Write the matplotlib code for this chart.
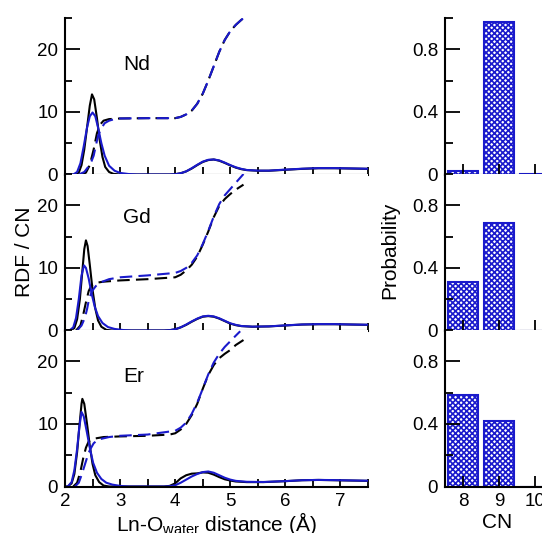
import matplotlib
matplotlib.use("Agg")
import matplotlib.pyplot as plt
from matplotlib.ticker import MultipleLocator, FixedLocator

plt.rcParams['font.family'] = ['Liberation Sans', 'DejaVu Sans']
plt.rcParams['font.size'] = 13.5
plt.rcParams['hatch.linewidth'] = 1.2

# RDF curves (solid) and running coordination numbers (dashed)
# black = reference, blue = model
nd_rdf_black = [(2.0, 0), (2.20, 0), (2.25, 0.3), (2.30, 1.5), (2.35, 4.0), (2.40, 7.5), (2.45, 11.0),
                (2.49, 12.8), (2.53, 12.0), (2.58, 9.0), (2.63, 5.5), (2.68, 2.8), (2.73, 1.2),
                (2.80, 0.4), (2.88, 0.1), (3.0, 0), (3.9, 0), (4.0, 0.05), (4.1, 0.2), (4.2, 0.5),
                (4.3, 0.95), (4.4, 1.5), (4.5, 2.0), (4.6, 2.3), (4.7, 2.4), (4.8, 2.2), (4.9, 1.85),
                (5.0, 1.45), (5.1, 1.1), (5.2, 0.85), (5.3, 0.7), (5.5, 0.6), (5.7, 0.6), (6.0, 0.75),
                (6.3, 0.9), (6.6, 1.0), (6.9, 1.0), (7.2, 0.95), (7.5, 0.9)]
nd_rdf_blue = [(2.0, 0), (2.15, 0), (2.22, 0.4), (2.28, 1.8), (2.34, 4.5), (2.40, 7.5), (2.45, 9.3),
               (2.50, 9.9), (2.55, 9.3), (2.60, 7.5), (2.66, 5.0), (2.72, 3.0), (2.80, 1.4),
               (2.90, 0.6), (3.0, 0.25), (3.15, 0.08), (3.3, 0), (3.9, 0), (4.0, 0.05), (4.1, 0.2),
               (4.2, 0.5), (4.3, 1.0), (4.4, 1.55), (4.5, 2.05), (4.6, 2.35), (4.7, 2.4), (4.8, 2.25),
               (4.9, 1.9), (5.0, 1.5), (5.1, 1.15), (5.2, 0.9), (5.3, 0.72), (5.5, 0.62), (5.7, 0.62),
               (6.0, 0.78), (6.3, 0.92), (6.6, 1.02), (6.9, 1.02), (7.2, 0.97), (7.5, 0.92)]
nd_cn_black = [(2.3, 0), (2.38, 0.3), (2.45, 1.5), (2.52, 4.0), (2.58, 6.6), (2.64, 8.0), (2.70, 8.6),
               (2.80, 8.85), (3.0, 8.95), (3.5, 9.0), (4.0, 9.0), (4.1, 9.2), (4.2, 9.6), (4.3, 10.2),
               (4.4, 11.3), (4.5, 12.9), (4.6, 15.0), (4.7, 17.3), (4.8, 19.6), (4.9, 21.5),
               (5.0, 22.9), (5.1, 23.9), (5.2, 24.7), (5.27, 25.2)]
nd_cn_blue = [(2.25, 0), (2.35, 0.4), (2.42, 1.2), (2.48, 2.1), (2.52, 3.0), (2.56, 4.6), (2.60, 6.2),
              (2.66, 7.4), (2.72, 8.2), (2.80, 8.6), (2.9, 8.85), (3.0, 8.95), (3.5, 9.0), (4.0, 9.0),
              (4.1, 9.2), (4.2, 9.6), (4.3, 10.2), (4.4, 11.3), (4.5, 12.9), (4.6, 15.0), (4.7, 17.3),
              (4.8, 19.6), (4.9, 21.5), (5.0, 22.9), (5.1, 23.9), (5.2, 24.7), (5.27, 25.2)]

gd_rdf_black = [(2.0, 0), (2.10, 0), (2.17, 0.4), (2.22, 1.8), (2.27, 5.0), (2.31, 9.0), (2.35, 13.0),
                (2.38, 14.4), (2.41, 13.5), (2.45, 10.5), (2.50, 6.5), (2.55, 3.5), (2.60, 1.6),
                (2.66, 0.6), (2.75, 0.1), (2.85, 0), (3.8, 0), (3.9, 0.05), (4.0, 0.2), (4.1, 0.5),
                (4.2, 0.9), (4.3, 1.4), (4.4, 1.85), (4.5, 2.2), (4.6, 2.3), (4.7, 2.2), (4.8, 1.9),
                (4.9, 1.5), (5.0, 1.1), (5.1, 0.85), (5.2, 0.7), (5.4, 0.6), (5.7, 0.65), (6.0, 0.8),
                (6.3, 0.95), (6.6, 1.0), (6.9, 1.0), (7.2, 0.95), (7.5, 0.9)]
gd_rdf_blue = [(2.0, 0), (2.08, 0), (2.15, 0.5), (2.20, 2.0), (2.25, 5.0), (2.30, 8.8), (2.345, 10.4),
               (2.38, 10.0), (2.43, 8.3), (2.48, 6.0), (2.54, 3.8), (2.60, 2.3), (2.68, 1.2),
               (2.78, 0.55), (2.90, 0.25), (3.05, 0.08), (3.2, 0), (3.8, 0), (3.9, 0.05), (4.0, 0.2),
               (4.1, 0.5), (4.2, 0.95), (4.3, 1.45), (4.4, 1.9), (4.5, 2.25), (4.6, 2.35), (4.7, 2.25),
               (4.8, 1.95), (4.9, 1.55), (5.0, 1.15), (5.1, 0.9), (5.2, 0.72), (5.4, 0.62), (5.7, 0.66),
               (6.0, 0.82), (6.3, 0.96), (6.6, 1.02), (6.9, 1.02), (7.2, 0.96), (7.5, 0.92)]
gd_cn_black = [(2.2, 0), (2.28, 0.8), (2.33, 2.5), (2.38, 4.5), (2.43, 6.3), (2.48, 7.2), (2.55, 7.6),
               (2.7, 7.8), (3.0, 8.0), (3.5, 8.2), (4.0, 8.5), (4.1, 8.9), (4.2, 9.6), (4.3, 10.5),
               (4.4, 11.8), (4.5, 13.7), (4.6, 15.8), (4.7, 18.1), (4.8, 19.9), (4.9, 21.0),
               (5.0, 21.8), (5.1, 22.5), (5.24, 23.3)]
gd_cn_blue = [(2.22, 0), (2.30, 0.8), (2.36, 2.0), (2.40, 3.4), (2.44, 5.2), (2.50, 6.4), (2.56, 7.1),
              (2.65, 7.7), (2.8, 8.2), (3.0, 8.5), (3.5, 8.8), (4.0, 9.2), (4.1, 9.5), (4.2, 10.0),
              (4.3, 10.8), (4.4, 12.0), (4.5, 13.8), (4.6, 15.9), (4.7, 18.2), (4.8, 20.2),
              (4.9, 21.6), (5.0, 22.6), (5.1, 23.6), (5.2, 24.6), (5.24, 25.0)]

er_rdf_black = [(2.0, 0), (2.05, 0), (2.12, 0.5), (2.17, 2.0), (2.22, 5.5), (2.26, 9.5), (2.30, 13.2),
                (2.315, 14.0), (2.35, 13.2), (2.40, 10.0), (2.45, 6.5), (2.50, 3.6), (2.55, 1.8),
                (2.62, 0.7), (2.70, 0.15), (2.80, 0), (3.8, 0), (3.9, 0.1), (4.0, 0.5), (4.1, 1.3),
                (4.2, 1.8), (4.3, 2.05), (4.4, 2.1), (4.5, 2.25), (4.6, 2.2), (4.7, 1.9), (4.8, 1.5),
                (4.9, 1.15), (5.0, 0.95), (5.1, 0.8), (5.3, 0.7), (5.6, 0.7), (6.0, 0.85), (6.3, 1.0),
                (6.6, 1.05), (6.9, 1.0), (7.2, 0.95), (7.5, 0.9)]
er_rdf_blue = [(2.0, 0), (2.05, 0), (2.12, 0.7), (2.17, 2.6), (2.22, 6.0), (2.26, 9.5), (2.30, 11.9),
               (2.34, 11.2), (2.39, 9.0), (2.45, 6.2), (2.51, 3.8), (2.58, 2.2), (2.66, 1.2),
               (2.75, 0.6), (2.86, 0.3), (3.0, 0.1), (3.15, 0), (3.8, 0), (3.9, 0.05), (4.0, 0.2),
               (4.1, 0.6), (4.2, 1.1), (4.3, 1.6), (4.4, 2.0), (4.5, 2.3), (4.6, 2.4), (4.7, 2.2),
               (4.8, 1.8), (4.9, 1.4), (5.0, 1.1), (5.1, 0.9), (5.3, 0.75), (5.6, 0.72), (6.0, 0.86),
               (6.3, 1.0), (6.6, 1.05), (6.9, 1.02), (7.2, 0.97), (7.5, 0.92)]
er_cn_black = [(2.15, 0), (2.22, 0.6), (2.28, 2.4), (2.33, 4.5), (2.38, 6.2), (2.43, 7.2), (2.5, 7.6),
               (2.7, 7.9), (3.0, 8.0), (3.5, 8.1), (3.9, 8.3), (4.0, 8.5), (4.1, 9.1), (4.2, 10.0),
               (4.3, 11.4), (4.4, 13.2), (4.5, 15.6), (4.6, 17.8), (4.7, 19.4), (4.8, 20.5),
               (4.9, 21.2), (5.0, 21.8), (5.1, 22.6), (5.24, 23.4)]
er_cn_blue = [(2.18, 0), (2.25, 0.6), (2.30, 1.8), (2.35, 3.2), (2.40, 4.6), (2.45, 5.8), (2.52, 6.9),
              (2.60, 7.5), (2.8, 7.9), (3.0, 8.1), (3.5, 8.3), (4.0, 8.9), (4.1, 9.4), (4.2, 10.2),
              (4.3, 11.6), (4.4, 13.4), (4.5, 15.6), (4.6, 17.9), (4.7, 19.8), (4.8, 21.2),
              (4.9, 22.3), (5.0, 23.2), (5.1, 24.1), (5.18, 24.8)]

ions = ['Nd', 'Gd', 'Er']
cn_values = [8, 9, 10]
nd_prob = [0.02, 0.975, 0.004]
gd_prob = [0.31, 0.69, 0.0]
er_prob = [0.585, 0.42, 0.0]

rdf_black = [nd_rdf_black, gd_rdf_black, er_rdf_black]
rdf_blue = [nd_rdf_blue, gd_rdf_blue, er_rdf_blue]
cn_black = [nd_cn_black, gd_cn_black, er_cn_black]
cn_blue = [nd_cn_blue, gd_cn_blue, er_cn_blue]
probs = [nd_prob, gd_prob, er_prob]

W, H = 542, 533
fig = plt.figure(figsize=(W / 100, H / 100), dpi=100)

tops = [18, 174, 330]
ph = 156.5
blue = '#1a1acc'


def style(ax):
    ax.spines['top'].set_visible(False)
    ax.spines['right'].set_visible(False)
    for s in ('left', 'bottom'):
        ax.spines[s].set_linewidth(1.5)
    ax.tick_params(which='both', direction='in', width=1.3, top=False, right=False)


def xy(pts):
    return [p[0] for p in pts], [p[1] for p in pts]


for i, ion in enumerate(ions):
    b = (H - tops[i] - ph) / H
    ax = fig.add_axes([65 / W, b, (368 - 65) / W, ph / H])
    style(ax)

    x, y = xy(rdf_black[i])
    ax.plot(x, y, color='black', lw=1.5)
    x, y = xy(cn_black[i])
    ax.plot(x, y, color='black', lw=1.5, dashes=(6, 3))
    x, y = xy(rdf_blue[i])
    ax.plot(x, y, color=blue, lw=1.5)
    x, y = xy(cn_blue[i])
    ax.plot(x, y, color=blue, lw=1.5, dashes=(6, 3))

    ax.set_xlim(2, 7.5)
    ax.set_ylim(0, 25)
    ax.xaxis.set_major_locator(MultipleLocator(1))
    ax.xaxis.set_minor_locator(MultipleLocator(0.5))
    ax.yaxis.set_major_locator(MultipleLocator(10))
    ax.yaxis.set_minor_locator(MultipleLocator(5))
    ax.tick_params(axis='x', which='both', length=6)
    ax.tick_params(axis='y', which='major', length=11, pad=5)
    ax.tick_params(axis='y', which='minor', length=5)
    ax.text(3.05, 17.5 if i != 1 else 18.0, ion, fontsize=15, va='center', ha='left')
    if i < 2:
        ax.tick_params(axis='x', labelbottom=False)
    else:
        ax.tick_params(axis='x', pad=5)

    # coordination number histogram
    bx = fig.add_axes([445 / W, b, (W - 445) / W, ph / H])
    style(bx)
    bx.bar(cn_values, probs[i], width=0.85, color='white', edgecolor=blue,
           hatch='xxxxxx', linewidth=1.5, zorder=1)
    bx.set_xlim(7.5, 10.2)
    bx.set_ylim(0, 1.0)
    bx.xaxis.set_major_locator(FixedLocator(cn_values))
    bx.yaxis.set_major_locator(FixedLocator([0, 0.4, 0.8]))
    bx.yaxis.set_minor_locator(FixedLocator([0.2, 0.6, 1.0]))
    bx.set_yticklabels(['0', '0.4', '0.8'])
    bx.tick_params(axis='x', which='major', length=8)
    bx.tick_params(axis='y', which='major', length=11, pad=5)
    bx.tick_params(axis='y', which='minor', length=6)
    if i < 2:
        bx.tick_params(axis='x', labelbottom=False)
    else:
        bx.tick_params(axis='x', pad=5)

fig.text(25 / W, 1 - 252 / H, 'RDF / CN', rotation=90, ha='center', va='center', fontsize=15)
fig.text(390 / W, 1 - 250 / H, 'Probability', rotation=90, ha='center', va='center', fontsize=15)
fig.text(216 / W, 1 - 531 / H, r'Ln-O$_{\mathregular{water}}$ distance (Å)', ha='center',
         va='baseline', fontsize=15)
fig.text(497 / W, 1 - 528 / H, 'CN', ha='center', va='baseline', fontsize=15)

fig.savefig('out.png', dpi=100)
